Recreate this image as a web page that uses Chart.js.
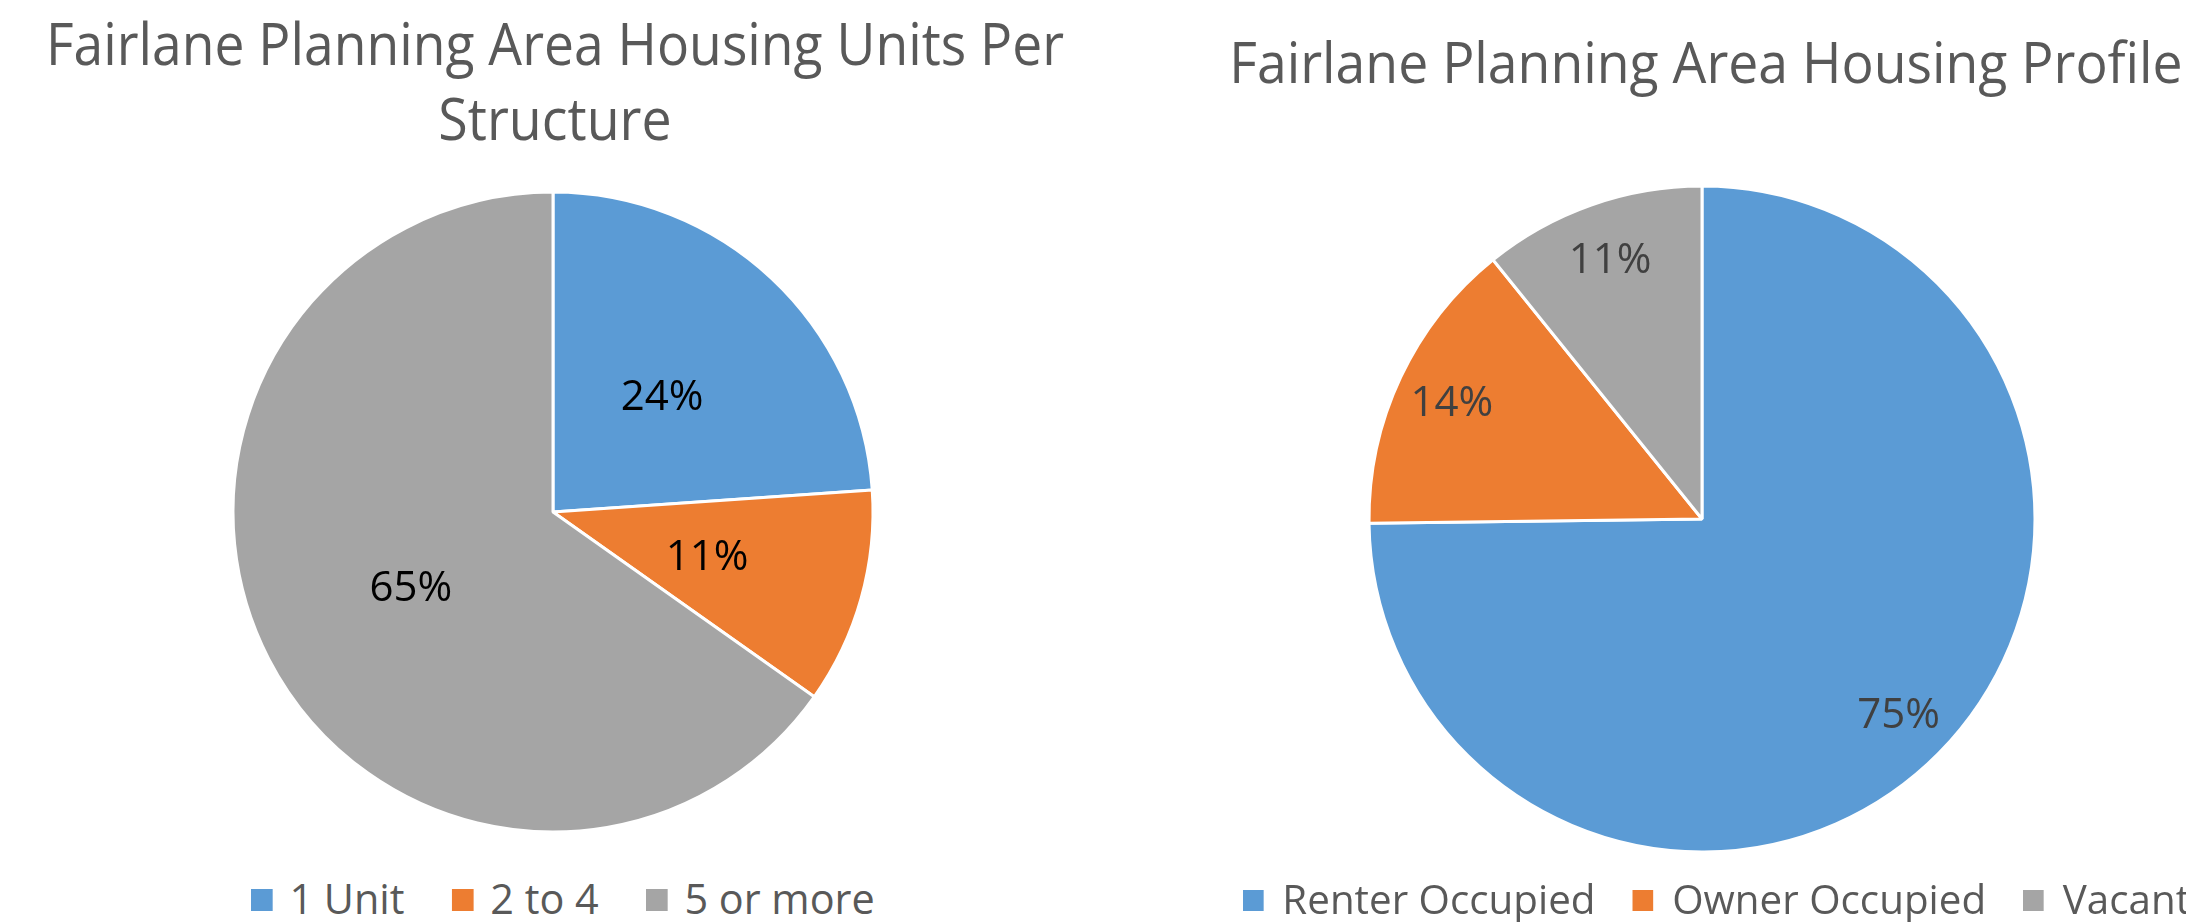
<!DOCTYPE html>
<html>
<head>
<meta charset="utf-8">
<script src="https://cdn.jsdelivr.net/npm/chart.js@4.4.1/dist/chart.umd.min.js"></script>
<style>
  html, body { margin:0; padding:0; background:#fff; }
  body { width:2186px; height:922px; position:relative; overflow:hidden; font-family:"Open Sans", sans-serif; }
  .title { position:absolute; white-space:nowrap; color:#595959; line-height:1; transform-origin:center; }
  .legend { position:absolute; display:flex; align-items:center; white-space:nowrap; color:#595959; line-height:1; transform-origin:left center; }
  .legend .sw { display:inline-block; flex:none; margin-top:4px; }
  .legend .tx { display:inline-block; }
  canvas { position:absolute; }
</style>
</head>
<body>
<canvas id="unitsChart" width="700" height="700" style="left:203px; top:162px"></canvas>
<canvas id="profileChart" width="720" height="720" style="left:1342px; top:159px"></canvas>
<script>
// chart data
const unitsTitle = ['Fairlane Planning Area Housing Units Per', 'Structure'];
const unitLabels = ['1 Unit', '2 to 4', '5 or more'];
const unitShares = [23.9, 10.9, 65.2];

const profileTitle = ['Fairlane Planning Area Housing Profile'];
const profileLabels = ['Renter Occupied', 'Owner Occupied', 'Vacant'];
const profileShares = [74.8, 14.4, 10.8];

const sliceColors = ['#5B9BD5', '#ED7D31', '#A5A5A5'];

// Open Sans: baseline sits 0.888em below the top of a line-height:1 box
function placeText(el, size, centerX, baseline, width){
  el.style.fontSize = size + 'px';
  el.style.left = centerX + 'px';
  el.style.top = (baseline - 0.888 * size) + 'px';
  document.body.appendChild(el);
  const k = width ? width / el.offsetWidth : 1;
  el.style.transform = `translateX(-50%) scaleX(${k})`;
}

function mountTitle(lines, size, centerX, baselines, widths){
  lines.forEach((line, i) => {
    const d = document.createElement('div');
    d.className = 'title';
    d.textContent = line;
    placeText(d, size, centerX, baselines[i], widths[i]);
  });
}

function mountLegend(labels, { left, baseline, size, box, gap, spacing, lastBoxAt }){
  const lg = document.createElement('div');
  lg.className = 'legend';
  lg.style.fontSize = size + 'px';
  lg.style.left = left + 'px';
  lg.style.top = (baseline - 0.888 * size) + 'px';
  lg.style.height = size + 'px';
  const boxes = [];
  labels.forEach((label, i) => {
    const sw = document.createElement('span');
    sw.className = 'sw';
    sw.style.width = sw.style.height = box + 'px';
    sw.style.background = sliceColors[i];
    sw.style.marginRight = gap + 'px';
    if(i > 0) sw.style.marginLeft = spacing + 'px';
    const tx = document.createElement('span');
    tx.className = 'tx';
    tx.textContent = label;
    lg.appendChild(sw);
    lg.appendChild(tx);
    boxes.push(sw);
  });
  document.body.appendChild(lg);
  const last = boxes[boxes.length - 1].offsetLeft;
  lg.style.transform = `scaleX(${(lastBoxAt - left) / last})`;
}

const pctLabels = {
  id: 'pctLabels',
  afterDatasetsDraw(chart, args, opts){
    const ctx = chart.ctx;
    const values = chart.data.datasets[0].data;
    const total = values.reduce((s, v) => s + v, 0);
    chart.getDatasetMeta(0).data.forEach((arc, i) => {
      const { x, y, startAngle, endAngle, outerRadius } =
        arc.getProps(['x', 'y', 'startAngle', 'endAngle', 'outerRadius'], true);
      const mid = (startAngle + endAngle) / 2;
      const r = outerRadius * opts.at;
      ctx.save();
      ctx.font = `${opts.size}px "Open Sans"`;
      ctx.fillStyle = opts.color;
      ctx.textAlign = 'center';
      ctx.textBaseline = 'alphabetic';
      ctx.fillText(Math.round(values[i] / total * 100) + '%',
        x + Math.cos(mid) * r, y + Math.sin(mid) * r + opts.size * 0.357);
      ctx.restore();
    });
  }
};

function makePie(id, labels, values, radius, labelOpts){
  return new Chart(document.getElementById(id), {
    type: 'pie',
    data: {
      labels,
      datasets: [{
        data: values,
        backgroundColor: sliceColors,
        borderColor: '#ffffff',
        borderWidth: 3,
        radius
      }]
    },
    options: {
      responsive: false,
      animation: false,
      layout: { padding: 0 },
      plugins: {
        legend: { display: false },
        tooltip: { enabled: false },
        pctLabels: labelOpts
      }
    },
    plugins: [pctLabels]
  });
}

makePie('unitsChart', unitLabels, unitShares, 320, { at: 0.5, size: 42, color: '#000000' });
makePie('profileChart', profileLabels, profileShares, 333, { at: 0.83, size: 42, color: '#404040' });

mountTitle(unitsTitle, 59, 555, [65, 140], [1018, 233]);
mountTitle(profileTitle, 56, 1706, [83], [953]);

mountLegend(unitLabels, { left: 251, baseline: 914, size: 42, box: 22, gap: 17, spacing: 48, lastBoxAt: 646 });
mountLegend(profileLabels, { left: 1243, baseline: 914, size: 41, box: 21, gap: 19, spacing: 38, lastBoxAt: 2023 });
</script>
</body>
</html>
